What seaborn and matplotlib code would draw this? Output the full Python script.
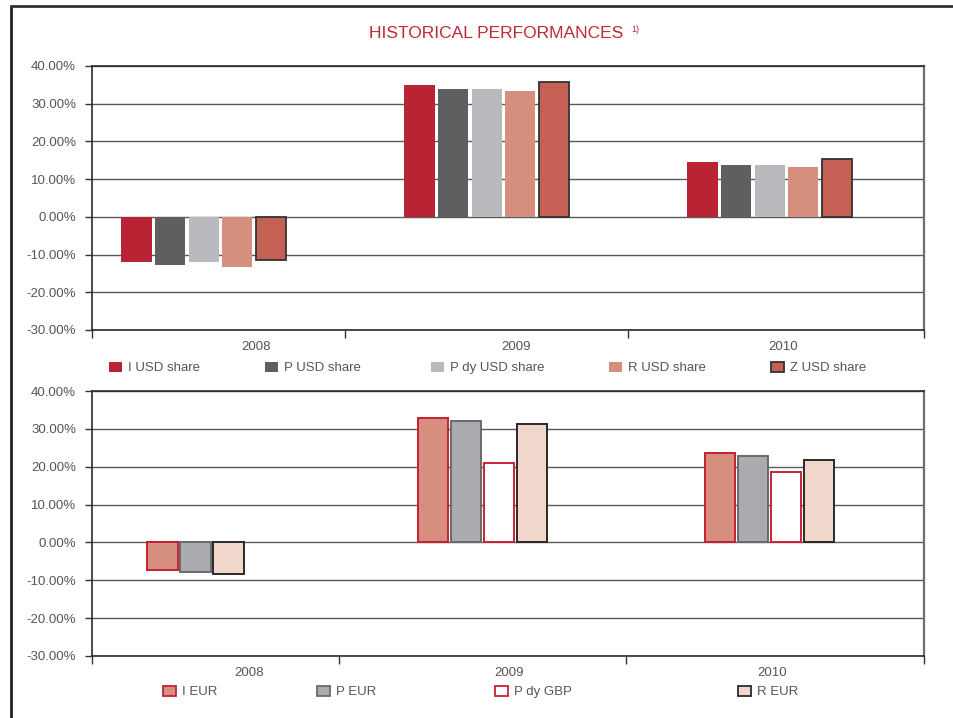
import matplotlib
matplotlib.use("Agg")
import matplotlib.pyplot as plt
import pandas as pd
import seaborn as sns
from matplotlib.lines import Line2D
from matplotlib.patches import Patch
from matplotlib.ticker import FuncFormatter

# ---------------------------------------------------------------------------
# Data (yearly performance, %)
# ---------------------------------------------------------------------------

years = ["2008", "2009", "2010"]

usd_series = ["I USD share", "P USD share", "P dy USD share", "R USD share", "Z USD share"]
usd_2008 = [-12.1, -12.7, -12.1, -13.3, -11.5]
usd_2009 = [35.0, 33.9, 33.9, 33.4, 35.8]
usd_2010 = [14.6, 13.8, 13.8, 13.3, 15.4]

eur_series = ["I EUR", "P EUR", "P dy GBP", "R EUR"]
eur_2008 = [-7.3, -7.8, None, -8.4]   # no P dy GBP figure for 2008
eur_2009 = [33.0, 32.2, 20.9, 31.4]
eur_2010 = [23.5, 22.7, 18.5, 21.9]

# ---------------------------------------------------------------------------
# Styles
# ---------------------------------------------------------------------------

RED = "#c0283a"
TEXT = "#555555"

usd_fill = {"I USD share": "#b82433", "P USD share": "#5f5f61",
            "P dy USD share": "#b9babd", "R USD share": "#d68e7e",
            "Z USD share": "#c56055"}
usd_edge = {"I USD share": None, "P USD share": None, "P dy USD share": None,
            "R USD share": None, "Z USD share": "#333333"}

eur_fill = {"I EUR": "#d68e7e", "P EUR": "#aaabae", "P dy GBP": "#ffffff",
            "R EUR": "#f1d6cc"}
eur_edge = {"I EUR": "#c8202f", "P EUR": "#6a6a6a", "P dy GBP": "#cc2233",
            "R EUR": "#2a2a2a"}


def to_long(series, *cols):
    rows = []
    for year, vals in zip(years, cols):
        for name, v in zip(series, vals):
            if v is not None:
                rows.append({"year": year, "series": name, "value": v})
    return pd.DataFrame(rows)


usd = to_long(usd_series, usd_2008, usd_2009, usd_2010)
eur = to_long(eur_series, eur_2008, eur_2009, eur_2010)

sns.set_style("white")
plt.rcParams["font.family"] = ["Liberation Sans", "DejaVu Sans"]

W, H = 954, 718
fig = plt.figure(figsize=(W / 100, H / 100), dpi=100)


def px_axes(left, top, right, bottom):
    return fig.add_axes([left / W, 1 - bottom / H, (right - left) / W, (bottom - top) / H])


def draw_groups(ax, data, series, fills, edges, lw, slot, gap):
    for year in years:
        sub = data[data["year"] == year]
        present = [s for s in series if s in set(sub["series"])]
        n0 = len(ax.containers)
        sns.barplot(data=sub, x="year", y="value", hue="series", order=years,
                    hue_order=present, palette=fills, width=slot * len(present),
                    gap=gap, saturation=1, errorbar=None, legend=False, ax=ax)
        for name, cont in zip(present, ax.containers[n0:]):
            for bar in cont:
                if edges[name]:
                    bar.set_edgecolor(edges[name])
                    bar.set_linewidth(lw)
                else:
                    bar.set_edgecolor("none")


def style_axes(ax, xlo, xhi, label_px):
    ax.set_xlim(xlo, xhi)
    ax.set_ylim(-30, 40)
    ax.set_yticks(range(-30, 41, 10))
    ax.yaxis.set_major_formatter(FuncFormatter(lambda v, _: f"{v:.2f}%"))
    # year labels sit where the original report prints them (pixel x)
    span = 924 - 92
    ax.set_xticks([xlo + (p - 92) / span * (xhi - xlo) for p in label_px])
    ax.set_xticklabels(years)
    ax.set_xticks([xlo, 0.5, 1.5, xhi], minor=True)
    ax.set_xlabel("")
    ax.set_ylabel("")
    ax.set_axisbelow(True)
    ax.yaxis.grid(True, color="#5a5a5a", linewidth=1.0)
    ax.xaxis.grid(False)
    ax.tick_params(axis="y", left=True, length=5, width=1, color="#333333",
                   pad=6.5, labelsize=9.5, labelcolor=TEXT)
    ax.tick_params(axis="x", which="major", length=0, pad=8,
                   labelsize=9.5, labelcolor=TEXT)
    ax.tick_params(axis="x", which="minor", bottom=True, length=6, width=1,
                   color="#333333", direction="out")
    for side in ["left", "bottom", "top"]:
        ax.spines[side].set_color("#2b2b2b")
        ax.spines[side].set_linewidth(1.2)
    ax.spines["right"].set_color("#6e6e6e")
    ax.spines["right"].set_linewidth(1.6)


def legend_row(names, fills, edges, xs, y):
    for name, x in zip(names, xs):
        h = Patch(facecolor=fills[name], edgecolor=edges[name] or fills[name],
                  linewidth=1.3 if edges[name] else 0)
        fig.legend(handles=[h], labels=[name], loc="center left",
                   bbox_to_anchor=(x / W, 1 - y / H), frameon=False,
                   fontsize=9.5, labelcolor=TEXT, handlelength=0.95,
                   handleheight=0.85, handletextpad=0.5, borderpad=0,
                   borderaxespad=0)


# top chart: USD share classes
ax1 = px_axes(92, 66, 924, 330)
draw_groups(ax1, usd, usd_series, usd_fill, usd_edge, lw=1.3, slot=0.1187, gap=0.1)
style_axes(ax1, -0.395, 2.545, [256, 516, 783])

# bottom chart: EUR / GBP share classes
ax2 = px_axes(92, 391, 924, 656)
draw_groups(ax2, eur, eur_series, eur_fill, eur_edge, lw=1.4, slot=0.115, gap=0.08)
style_axes(ax2, -0.361, 2.538, [249, 509, 772])

legend_row(usd_series, usd_fill, usd_edge, [109, 265, 431, 609, 771], 368)
legend_row(eur_series, eur_fill, eur_edge, [163, 317, 495, 738], 692)

fig.text(496 / W, 1 - 34 / H, "HISTORICAL PERFORMANCES", color=RED,
         fontsize=12.5, ha="center", va="center")
fig.text(631 / W, 1 - 30 / H, "1)", color=RED, fontsize=6.5, ha="left",
         va="center")

# page frame
fig.add_artist(Line2D([11.5 / W, 11.5 / W], [0, 1 - 5.5 / H],
                      transform=fig.transFigure, color="#222222", lw=2.0))
fig.add_artist(Line2D([11.5 / W, 1], [1 - 5.5 / H, 1 - 5.5 / H],
                      transform=fig.transFigure, color="#333333", lw=2.0))

fig.savefig("out.png", dpi=100)
